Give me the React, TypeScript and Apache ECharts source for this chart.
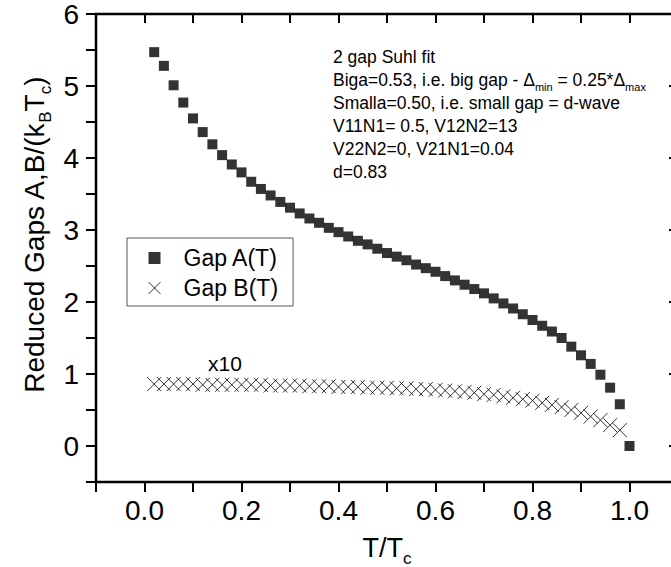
import React, { useEffect, useRef } from "react";
import * as echarts from "echarts";

const FONT = "'Liberation Sans', Arial, Helvetica, sans-serif";

// T/Tc values for Gap A
const tA = [
  0.02, 0.04, 0.06, 0.08, 0.1, 0.12, 0.14, 0.16, 0.18, 0.2,
  0.22, 0.24, 0.26, 0.28, 0.3, 0.32, 0.34, 0.36, 0.38, 0.4,
  0.42, 0.44, 0.46, 0.48, 0.5, 0.52, 0.54, 0.56, 0.58, 0.6,
  0.62, 0.64, 0.66, 0.68, 0.7, 0.72, 0.74, 0.76, 0.78, 0.8,
  0.82, 0.84, 0.86, 0.88, 0.9, 0.92, 0.94, 0.96, 0.98, 1.0,
];
const gapA = [
  5.47, 5.28, 5.01, 4.77, 4.55, 4.36, 4.19, 4.04, 3.91, 3.8,
  3.67, 3.57, 3.48, 3.39, 3.31, 3.23, 3.16, 3.1, 3.03, 2.97,
  2.91, 2.85, 2.8, 2.74, 2.68, 2.63, 2.58, 2.52, 2.47, 2.42,
  2.36, 2.3, 2.24, 2.18, 2.12, 2.05, 1.98, 1.91, 1.83, 1.75,
  1.67, 1.59, 1.5, 1.38, 1.26, 1.14, 0.99, 0.81, 0.58, 0.0,
];

// T/Tc values for Gap B (x10)
const tB = [
  0.02, 0.04, 0.06, 0.08, 0.1, 0.12, 0.14, 0.16, 0.18, 0.2,
  0.22, 0.24, 0.26, 0.28, 0.3, 0.32, 0.34, 0.36, 0.38, 0.4,
  0.42, 0.44, 0.46, 0.48, 0.5, 0.52, 0.54, 0.56, 0.58, 0.6,
  0.62, 0.64, 0.66, 0.68, 0.7, 0.72, 0.74, 0.76, 0.78, 0.8,
  0.82, 0.84, 0.86, 0.88, 0.9, 0.92, 0.94, 0.96, 0.98,
];
const gapB = [
  0.86, 0.86, 0.86, 0.86, 0.86, 0.85, 0.85, 0.85, 0.85, 0.85,
  0.85, 0.85, 0.84, 0.84, 0.84, 0.84, 0.83, 0.83, 0.83, 0.82,
  0.82, 0.82, 0.81, 0.81, 0.81, 0.8, 0.8, 0.79, 0.79, 0.78,
  0.77, 0.76, 0.75, 0.74, 0.72, 0.71, 0.69, 0.67, 0.65, 0.63,
  0.6, 0.57, 0.54, 0.5, 0.46, 0.41, 0.36, 0.29, 0.22,
];

const seriesNames = ["Gap A(T)", "Gap B(T)"];
const rightTicks = [0, 1, 2, 3, 4, 5, 6];
const X_MIN = -0.1;
const X_MAX = 1.1;
const Y_MIN = -0.5;
const Y_MAX = 6;

const noteLines = [
  "2 gap Suhl fit",
  "Biga=0.53, i.e. big gap - Δ{s|min} = 0.25*Δ{s|max}",
  "Smalla=0.50, i.e. small gap = d-wave",
  "V11N1= 0.5, V12N2=13",
  "V22N2=0, V21N1=0.04",
  "d=0.83",
];
const scaleNote = "x10";

const CROSS = "path://M0,0L10,10M10,0L0,10";

export default function App() {
  const ref = useRef<HTMLDivElement>(null);
  useEffect(() => {
    if (!ref.current) return;
    const chart = echarts.init(ref.current, undefined, { renderer: "svg" });
    const mkLine = () => ({ show: true, onZero: false, lineStyle: { color: "#000", width: 2 } });
    const xFmt = (v: number) => {
      const r = Math.round(v * 10);
      if (r < 0 || r > 10 || r % 2 !== 0) return "";
      return (r / 10).toFixed(1);
    };
    const yFmt = (v: number) => {
      const r = Math.round(v * 2);
      if (r < 0 || r % 2 !== 0) return "";
      return String(r / 2);
    };
    const noteY0 = 57;
    const noteDy = 23;
    const baseGraphics: any[] = [
      {
        type: "text",
        x: 34,
        y: 235,
        rotation: Math.PI / 2,
        style: {
          text: "Reduced Gaps A,B/(k{s|B}T{s|c})",
          fontSize: 28,
          fontFamily: FONT,
          fill: "#000",
          lineHeight: 40,
          align: "center",
          verticalAlign: "middle",
          rich: {
            s: { fontSize: 17, fontFamily: FONT, fill: "#000", lineHeight: 40, verticalAlign: "bottom" },
          },
        },
      },
      {
        type: "text",
        x: 225,
        y: 363,
        style: {
          text: scaleNote,
          fontSize: 21,
          fontFamily: FONT,
          fill: "#000",
          align: "center",
          verticalAlign: "middle",
        },
      },
      ...noteLines.map((line, i) => ({
        type: "text",
        x: 333,
        y: noteY0 + i * noteDy,
        style: {
          text: line,
          fontSize: 17.5,
          fontFamily: FONT,
          fill: "#000",
          lineHeight: 24,
          align: "left",
          verticalAlign: "middle",
          rich: {
            s: { fontSize: 11, fontFamily: FONT, fill: "#000", lineHeight: 24, verticalAlign: "bottom" },
          },
        },
      })),
    ];
    chart.setOption({
      animation: false,
      backgroundColor: "#fff",
      grid: {
        left: 96,
        top: 14,
        width: 582,
        height: 468,
        containLabel: false,
        outerBoundsMode: "none",
      },
      xAxis: [
        {
          type: "value",
          position: "bottom",
          min: X_MIN,
          max: X_MAX,
          interval: 0.1,
          axisLine: mkLine(),
          axisTick: { show: true, inside: false, length: 10, lineStyle: { color: "#000", width: 2 } },
          axisLabel: {
            formatter: xFmt,
            fontSize: 28,
            color: "#000",
            fontFamily: FONT,
            margin: 14,
            showMinLabel: true,
            showMaxLabel: true,
          },
          splitLine: { show: false },
          name: "T/T{s|c}",
          nameLocation: "middle",
          nameGap: 44,
          nameTextStyle: {
            fontSize: 27,
            color: "#000",
            fontFamily: FONT,
            lineHeight: 38,
            rich: {
              s: { fontSize: 17, fontFamily: FONT, color: "#000", lineHeight: 38, verticalAlign: "bottom" },
            },
          },
        },
        {
          type: "value",
          position: "top",
          min: X_MIN,
          max: X_MAX,
          interval: 0.1,
          axisLine: mkLine(),
          axisTick: { show: true, inside: true, length: 9, lineStyle: { color: "#000", width: 2 } },
          axisLabel: { show: false },
          splitLine: { show: false },
        },
      ],
      yAxis: [
        {
          type: "value",
          position: "left",
          min: Y_MIN,
          max: Y_MAX,
          interval: 0.5,
          axisLine: mkLine(),
          axisTick: { show: true, inside: false, length: 10, lineStyle: { color: "#000", width: 2 } },
          axisLabel: {
            formatter: yFmt,
            fontSize: 28,
            color: "#000",
            fontFamily: FONT,
            margin: 17,
            showMaxLabel: true,
          },
          splitLine: { show: false },
        },
        {
          type: "value",
          position: "right",
          min: Y_MIN,
          max: Y_MAX,
          interval: 0.5,
          axisLine: mkLine(),
          axisTick: {
            show: true,
            inside: true,
            length: 9,
            customValues: rightTicks,
            lineStyle: { color: "#000", width: 2 },
          },
          axisLabel: { show: false },
          splitLine: { show: false },
        },
      ],
      legend: {
        orient: "vertical",
        left: 127,
        top: 238,
        padding: [8, 15, 6, 21],
        borderColor: "#555",
        borderWidth: 1,
        itemWidth: 12,
        itemHeight: 12,
        itemGap: 6,
        textStyle: {
          fontSize: 23,
          color: "#000",
          fontFamily: FONT,
          lineHeight: 24,
          padding: [0, 0, 0, 18],
        },
        data: [
          { name: seriesNames[0], icon: "rect", itemStyle: { color: "#000" } },
          {
            name: seriesNames[1],
            icon: CROSS,
            itemStyle: { color: "transparent", borderColor: "#000", borderWidth: 1 },
          },
        ],
      },
      series: [
        {
          type: "scatter",
          name: seriesNames[0],
          xAxisIndex: 0,
          yAxisIndex: 0,
          symbol: "rect",
          symbolSize: 10,
          itemStyle: { color: "#000" },
          data: tA.map((t, i) => [t, gapA[i]]),
        },
        {
          type: "scatter",
          name: seriesNames[1],
          xAxisIndex: 0,
          yAxisIndex: 0,
          symbol: CROSS,
          symbolSize: 14,
          itemStyle: { color: "transparent", borderColor: "#000", borderWidth: 1 },
          data: tB.map((t, i) => [t, gapB[i]]),
        },
      ],
      graphic: baseGraphics,
    });

    // Frame of the plot box, placed through the axes' own scales
    const p0 = chart.convertToPixel({ xAxisIndex: 0, yAxisIndex: 0 }, [X_MIN, Y_MAX]) as number[];
    const p1 = chart.convertToPixel({ xAxisIndex: 0, yAxisIndex: 0 }, [X_MAX, Y_MIN]) as number[];
    if (p0 && p1) {
      chart.setOption({
        graphic: [
          ...baseGraphics,
          {
            type: "rect",
            z: 50,
            silent: true,
            shape: { x: p0[0], y: p0[1], width: p1[0] - p0[0], height: p1[1] - p0[1] },
            style: { fill: "transparent", stroke: "#000000", lineWidth: 2.5 },
          },
        ],
      });
    }
    return () => chart.dispose();
  }, []);
  return (
    <div
      ref={ref}
      style={{ position: "fixed", left: 0, top: 0, width: 671, height: 567, background: "#fff" }}
    />
  );
}
